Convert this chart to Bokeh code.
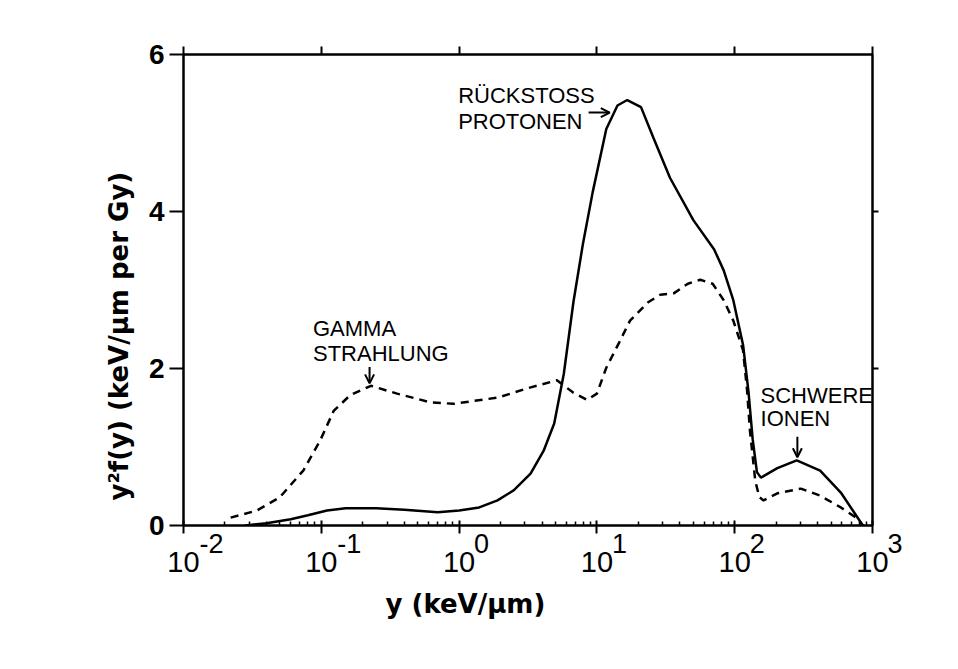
from bokeh.plotting import figure
from bokeh.models import (LogAxis, LinearAxis, FixedTicker, CustomJSTickFormatter,
                          Label, Arrow, OpenHead, Range1d, Title)
from bokeh.embed import file_html
from bokeh.resources import INLINE

# Lineal energy y (keV/um) and dose distribution y^2 f(y): neutron field (solid)
total_y = [0.028, 0.04, 0.06, 0.08, 0.11, 0.15, 0.25, 0.4, 0.7, 1.0, 1.4, 1.9, 2.5,
           3.3, 4.1, 4.9, 5.75, 6.76, 7.94, 9.33, 11.7, 14.1, 16.6, 20.9, 25.7, 33.9,
           50.1, 70.8, 83.2, 97.7, 115, 126, 135, 145, 155, 204, 282, 417, 589, 851]
total_d = [0.0, 0.03, 0.08, 0.13, 0.19, 0.22, 0.22, 0.20, 0.17, 0.19, 0.23, 0.32, 0.45,
           0.66, 0.95, 1.30, 1.93, 2.85, 3.60, 4.25, 5.05, 5.35, 5.42, 5.33, 4.94, 4.43,
           3.89, 3.52, 3.25, 2.87, 2.30, 1.70, 1.10, 0.68, 0.61, 0.73, 0.83, 0.70, 0.42, 0.0]

# Gamma reference spectrum (dashed)
gamma_y = [0.022, 0.034, 0.05, 0.074, 0.098, 0.123, 0.162, 0.229, 0.355, 0.617, 0.912,
           1.91, 3.31, 5.13, 6.76, 8.51, 10.0, 11.7, 14.5, 17.4, 23.4, 28.8, 36.3, 45.7,
           56.2, 69.2, 83.2, 97.7, 115, 123, 129, 141, 151, 162, 204, 302, 417, 589, 776, 851]
gamma_d = [0.10, 0.19, 0.36, 0.70, 1.08, 1.46, 1.66, 1.78, 1.68, 1.57, 1.55,
           1.63, 1.76, 1.85, 1.69, 1.60, 1.68, 2.01, 2.33, 2.61, 2.84, 2.94, 2.96, 3.08,
           3.13, 3.08, 2.87, 2.61, 2.23, 1.72, 1.21, 0.57, 0.36, 0.32, 0.41, 0.47, 0.38, 0.23, 0.09, 0.0]

decades = [-2, -1, 0, 1, 2, 3]
y_ticks = [0, 2, 4, 6]
right_ticks = [2, 4]

major_x = [10.0 ** k for k in decades]
minor_x = [m * 10.0 ** k for k in decades[:-1] for m in range(2, 10)]

LABEL_FONT = "Liberation Sans"
AXIS_FONT = "DejaVu Sans"

p = figure(width=958, height=669, x_axis_type="log",
           x_range=Range1d(0.01, 1000), y_range=Range1d(0, 6),
           output_backend="svg", toolbar_location=None,
           min_border_left=183, min_border_right=86,
           min_border_top=54, min_border_bottom=144,
           background_fill_color="white", border_fill_color="white")
p.grid.visible = False
p.outline_line_color = "black"
p.outline_line_width = 2

# bottom axis: mantissa "10" under every decade
xa = p.xaxis[0]
xa.ticker = FixedTicker(ticks=major_x, minor_ticks=minor_x)
xa.formatter = CustomJSTickFormatter(code="return '10'")
xa.axis_line_width = 2
xa.major_tick_line_width = 2
xa.minor_tick_line_width = 1.5
xa.major_tick_in = 5
xa.major_tick_out = 8
xa.minor_tick_in = 4
xa.minor_tick_out = 0
xa.major_label_standoff = 18
xa.major_label_text_font = LABEL_FONT
xa.major_label_text_font_size = "29px"
xa.major_label_text_color = "black"

# second bottom axis carrying only the raised exponents
exp_fmt = CustomJSTickFormatter(code="""
    const e = Math.round(Math.log10(tick));
    const pad = '\\u2007\\u2007\\u2007' + (e < 0 ? '\\u2009\\u2009' : '');
    return pad + String(e);
""")
xexp = LogAxis(ticker=FixedTicker(ticks=major_x), formatter=exp_fmt,
               axis_line_color=None, major_tick_line_color=None, minor_tick_line_color=None,
               major_tick_in=0, major_tick_out=0, minor_tick_in=0, minor_tick_out=0,
               major_label_standoff=-46, major_label_text_font=LABEL_FONT,
               major_label_text_font_size="27px", major_label_text_color="black")
p.add_layout(xexp, "below")

ya = p.yaxis[0]
ya.ticker = FixedTicker(ticks=y_ticks)
ya.axis_line_width = 2
ya.major_tick_line_width = 2
ya.major_tick_in = 0
ya.major_tick_out = 14
ya.minor_tick_in = 0
ya.minor_tick_out = 0
ya.major_label_standoff = 5
ya.major_label_text_font = LABEL_FONT
ya.major_label_text_font_style = "bold"
ya.major_label_text_font_size = "28px"
ya.major_label_text_color = "black"

blank = CustomJSTickFormatter(code="return ''")
top = LogAxis(ticker=FixedTicker(ticks=major_x), formatter=blank,
              axis_line_width=2, major_tick_line_width=2,
              major_tick_in=0, major_tick_out=8, minor_tick_in=0, minor_tick_out=0)
p.add_layout(top, "above")
right = LinearAxis(ticker=FixedTicker(ticks=right_ticks), formatter=blank,
                   axis_line_width=2, major_tick_line_width=2,
                   major_tick_in=0, major_tick_out=6, minor_tick_in=0, minor_tick_out=0)
p.add_layout(right, "right")

# curves
p.line(total_y, total_d, line_color="black", line_width=2.5)
p.line(gamma_y, gamma_d, line_color="black", line_width=2.5, line_dash="8 6")

# axis titles
p.add_layout(Title(text="y²f(y) (keV/μm per Gy)", align="left", offset=25, standoff=24,
                   text_font=AXIS_FONT, text_font_style="bold", text_font_size="26px",
                   text_color="black"), "left")
p.add_layout(Title(text="y  (keV/μm)", align="left", offset=202, standoff=25,
                   text_font=AXIS_FONT, text_font_style="bold", text_font_size="26px",
                   text_color="black"), "below")

# component annotations
def note(x, y, txt):
    p.add_layout(Label(x=x, y=y, text=txt, text_align="left", text_baseline="middle",
                       text_font=LABEL_FONT, text_font_size="22px", text_color="black"))

note(0.985, 5.48, "RÜCKSTOSS")
note(0.985, 5.15, "PROTONEN")
note(0.087, 2.51, "GAMMA")
note(0.087, 2.19, "STRAHLUNG")
note(154, 1.66, "SCHWERE")
note(154, 1.36, "IONEN")

head = dict(size=9, line_width=2, line_color="black")
p.add_layout(Arrow(end=OpenHead(**head), x_start=8.7, y_start=5.26, x_end=12.4, y_end=5.26,
                   line_width=2, line_color="black"))
p.add_layout(Arrow(end=OpenHead(**head), x_start=0.224, y_start=2.02, x_end=0.224, y_end=1.81,
                   line_width=2, line_color="black"))
p.add_layout(Arrow(end=OpenHead(**head), x_start=285, y_start=1.13, x_end=285, y_end=0.87,
                   line_width=2, line_color="black"))

open("out.html", "w").write(file_html(p, INLINE))
